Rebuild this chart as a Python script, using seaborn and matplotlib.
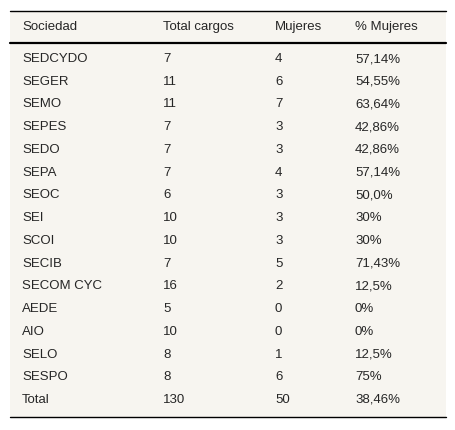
import seaborn as sns
import matplotlib.pyplot as plt
from matplotlib.patches import Rectangle

sns.set_style("white")
plt.rcParams['font.family'] = ['Liberation Sans', 'DejaVu Sans']

header = ["Sociedad", "Total cargos", "Mujeres", "% Mujeres"]
sociedad = ["SEDCYDO", "SEGER", "SEMO", "SEPES", "SEDO", "SEPA", "SEOC", "SEI", "SCOI",
            "SECIB", "SECOM CYC", "AEDE", "AIO", "SELO", "SESPO", "Total"]
total_cargos = [7, 11, 11, 7, 7, 7, 6, 10, 10, 7, 16, 5, 10, 8, 8, 130]
mujeres = [4, 6, 7, 3, 3, 4, 3, 3, 3, 5, 2, 0, 0, 1, 6, 50]
pct = ["57,14%", "54,55%", "63,64%", "42,86%", "42,86%", "57,14%", "50,0%", "30%", "30%",
       "71,43%", "12,5%", "0%", "0%", "12,5%", "75%", "38,46%"]

W, H = 456, 430
fig = plt.figure(figsize=(W / 100, H / 100), dpi=100)
ax = fig.add_axes([0, 0, 1, 1])
ax.set_xlim(0, W)
ax.set_ylim(H, 0)
ax.axis("off")

col_x = [22, 163, 275, 355]
left, right = 10, 446
top, head_bot, bottom = 11, 43, 417
first_y = 59
row_h = (400 - first_y) / 15

ax.add_patch(Rectangle((left, top), right - left, bottom - top, color="#f7f5f0", lw=0))
ax.plot([left, right], [top, top], color="black", lw=1)
ax.plot([left, right], [head_bot, head_bot], color="black", lw=1.6)
ax.plot([left, right], [bottom, bottom], color="black", lw=1)
for x, h in zip(col_x, header):
    ax.text(x, 27, h, va="center", ha="left", fontsize=9.5)

for i, row in enumerate(zip(sociedad, total_cargos, mujeres, pct)):
    y = first_y + i * row_h
    for x, v in zip(col_x, row):
        ax.text(x, y, str(v), va="center", ha="left", fontsize=9.5)

fig.savefig("out.png", dpi=100)
